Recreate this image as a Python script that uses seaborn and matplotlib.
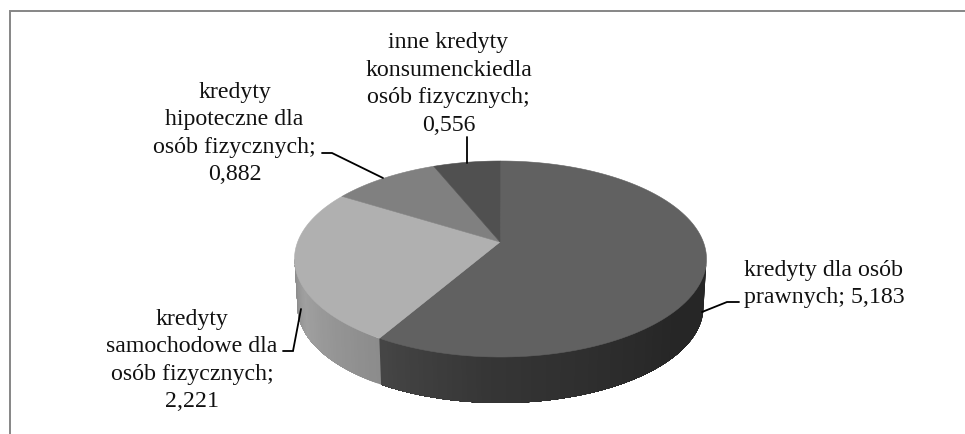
import numpy as np
import matplotlib
matplotlib.use("Agg")
import matplotlib.pyplot as plt
import seaborn as sns

# values
labels = [
    "kredyty dla osób\nprawnych; 5,183",
    "kredyty\nsamochodowe dla\nosób fizycznych;\n2,221",
    "kredyty\nhipoteczne dla\nosób fizycznych;\n0,882",
    "inne kredyty\nkonsumenckiedla\nosób fizycznych;\n0,556",
]
values = [5.183, 2.221, 0.882, 0.556]
top_colors = ["#616161", "#b0b0b0", "#808080", "#505050"]

sns.set_theme(style="white")
plt.rcParams["font.family"] = ["Liberation Serif"]

fig = plt.figure(figsize=(9.65, 4.34), dpi=100)
ax = fig.add_axes([0, 0, 1, 1])
ax.set_xlim(0, 965)
ax.set_ylim(434, 0)
ax.axis("off")

# pie geometry, in pixels
cx, cy, rx, ry = 500.5, 259, 206, 98
apex = (500, 242)
bcx, bcy, brx, bry = 500.5, 307, 203, 96


def to_param(theta):
    # perspective of the tilted pie: true angle -> ellipse parameter
    return theta - np.radians(9.7) * np.sin(theta)


def top_rim(t):
    return cx + rx * np.sin(t), cy - ry * np.cos(t)


def bottom_rim(t):
    return bcx + brx * np.sin(t), bcy - bry * np.cos(t)


edges = 2 * np.pi * np.concatenate([[0], np.cumsum(values)]) / sum(values)

# side wall, painted over itself so the strips leave no seams
right_side = sns.blend_palette(["#262626", "#262626", "#2e2e2e", "#363636", "#454545"], 90)
left_side = sns.blend_palette(["#8a8a8a", "#a0a0a0", "#959595", "#8c8c8c"], 40)[::-1]
t_split = to_param(edges[1])
for ts, colors in [
    (np.linspace(np.pi / 2, t_split, 91), right_side),
    (np.linspace(t_split, 1.5 * np.pi, 41), left_side),
]:
    for i, c in enumerate(colors):
        x1, y1 = top_rim(ts[i:])
        x2, y2 = bottom_rim(ts[i:][::-1])
        ax.fill(np.r_[x1, x2], np.r_[y1, y2], color=c, lw=0, zorder=2)

# top face
for start, end, c in zip(edges[:-1], edges[1:], top_colors):
    t = to_param(np.linspace(start, end, 120))
    x, y = top_rim(t)
    ax.fill(np.r_[apex[0], x], np.r_[apex[1], y], facecolor=c, edgecolor=c, lw=0.4, zorder=3)

# labels
text_pos = [(824, 284), (192, 360.5), (234.5, 133.5), (448.5, 84)]
for s, (x, y) in zip(labels, text_pos):
    ax.text(x, y, s, ha="center", va="center", fontsize=17.2, color="#111111", linespacing=1.41, zorder=5)

# leader lines
leaders = [
    ([702, 727, 739], [312, 302, 302]),
    ([283, 293, 301], [351, 351, 309]),
    ([322, 332, 383], [153, 153, 178]),
    ([467, 467], [137, 163]),
]
for xs, ys in leaders:
    ax.plot(xs, ys, color="black", lw=1.3, solid_joinstyle="miter", zorder=4)

# chart frame, only partly inside the crop
ax.plot([10, 10, 965], [434, 11, 11], color="#868686", lw=1.4, solid_joinstyle="miter", zorder=1)

fig.savefig("out.png", dpi=100)
